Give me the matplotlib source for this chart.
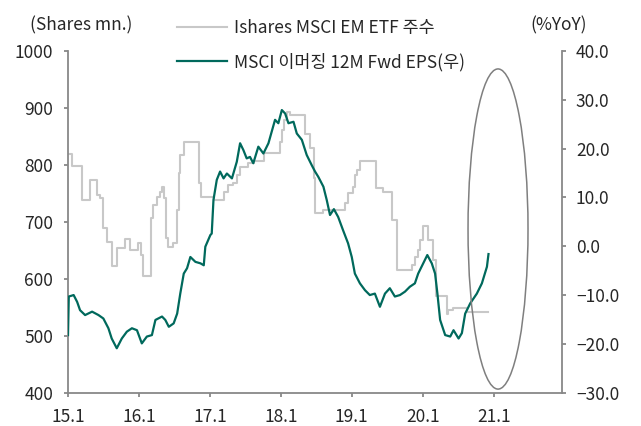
# -*- coding: utf-8 -*-
"""Ishares MSCI EM ETF 주수 vs MSCI 이머징 12M Fwd EPS YoY."""

import matplotlib

matplotlib.use("Agg")
import matplotlib.pyplot as plt
import pandas as pd
from matplotlib.patches import Ellipse


# 좌축: Ishares MSCI EM ETF 주수 (Shares mn.), 계단형
ETF_DATES = [
    "2015-01-02", "2015-01-20", "2015-03-15", "2015-04-23", "2015-05-30",
    "2015-06-13", "2015-07-01", "2015-07-23", "2015-08-18", "2015-09-09",
    "2015-10-23", "2015-11-14", "2015-12-28", "2016-01-12", "2016-01-23",
    "2016-03-03", "2016-03-14", "2016-04-01", "2016-04-20", "2016-05-01",
    "2016-05-08", "2016-05-19", "2016-05-30", "2016-06-25", "2016-07-16",
    "2016-07-24", "2016-07-31", "2016-08-18", "2016-11-03", "2016-11-18",
    "2017-01-20", "2017-03-12", "2017-04-06", "2017-05-01", "2017-05-19",
    "2017-06-07", "2017-07-17", "2017-08-15", "2017-10-08", "2017-12-28",
    "2018-01-08", "2018-01-19", "2018-02-03", "2018-02-17", "2018-05-05",
    "2018-05-30", "2018-06-21", "2018-06-25", "2018-08-08", "2018-11-29",
    "2018-12-14", "2019-01-05", "2019-01-20", "2019-01-30", "2019-02-14",
    "2019-05-08", "2019-06-10", "2019-07-27", "2019-08-22", "2019-11-07",
    "2019-11-22", "2019-12-10", "2019-12-17", "2020-01-01", "2020-01-30",
    "2020-02-24", "2020-03-10", "2020-05-04", "2020-05-12", "2020-06-06",
    "2020-08-15", "2020-10-05", "2020-12-02",
]
ETF_SHARES = [
    820, 798, 738, 773, 747,
    742, 689, 665, 622, 654,
    670, 651, 663, 642, 605,
    707, 730, 744, 753, 762,
    742, 671, 656, 663, 721,
    786, 817, 841, 768, 744,
    738, 753, 765, 768, 782,
    797, 803, 806, 821, 840,
    861, 879, 892, 888, 855,
    830, 777, 716, 721, 733,
    751, 762, 782, 791, 807,
    759, 753, 703, 615, 624,
    639, 651, 668, 692, 668,
    633, 569, 539, 545, 548,
    541, 542, 542,
]

# 우축: MSCI 이머징 12M Fwd EPS (%YoY)
EPS_DATES = [
    "2015-01-01", "2015-01-05", "2015-01-30", "2015-02-17", "2015-03-04",
    "2015-03-30", "2015-05-05", "2015-06-07", "2015-07-02", "2015-07-28",
    "2015-08-14", "2015-09-09", "2015-10-05", "2015-10-31", "2015-11-26",
    "2015-12-22", "2016-01-16", "2016-02-11", "2016-03-08", "2016-03-26",
    "2016-04-29", "2016-05-16", "2016-06-03", "2016-06-28", "2016-07-16",
    "2016-08-01", "2016-08-19", "2016-09-05", "2016-09-22", "2016-10-18",
    "2016-11-13", "2016-11-30", "2016-12-08", "2017-01-03", "2017-01-10",
    "2017-01-19", "2017-02-05", "2017-02-22", "2017-03-12", "2017-03-29",
    "2017-04-24", "2017-05-19", "2017-06-05", "2017-06-22", "2017-07-09",
    "2017-07-26", "2017-08-12", "2017-09-07", "2017-10-03", "2017-10-29",
    "2017-11-15", "2017-12-02", "2017-12-19", "2018-01-06", "2018-01-23",
    "2018-02-09", "2018-03-07", "2018-03-24", "2018-04-19", "2018-05-14",
    "2018-06-09", "2018-06-26", "2018-07-13", "2018-08-08", "2018-08-25",
    "2018-09-11", "2018-10-01", "2018-10-23", "2018-11-17", "2018-12-13",
    "2019-01-01", "2019-01-17", "2019-02-12", "2019-03-10", "2019-04-04",
    "2019-04-30", "2019-05-26", "2019-06-21", "2019-07-16", "2019-08-11",
    "2019-09-06", "2019-10-02", "2019-10-27", "2019-11-22", "2019-12-09",
    "2020-01-04", "2020-01-25", "2020-02-17", "2020-03-05", "2020-03-17",
    "2020-03-31", "2020-04-26", "2020-05-22", "2020-06-08", "2020-07-04",
    "2020-07-21", "2020-08-07", "2020-09-02", "2020-10-06", "2020-11-01",
    "2020-11-27", "2020-12-05",
]
EPS_YOY = [
    -18.2, -10.3, -10.0, -11.4, -13.1,
    -14.1, -13.4, -14.1, -14.8, -16.8,
    -18.9, -20.9, -18.9, -17.5, -16.8,
    -17.2, -19.9, -18.5, -18.2, -15.1,
    -14.4, -15.1, -16.5, -15.8, -13.8,
    -9.7, -5.6, -4.5, -2.2, -3.2,
    -3.5, -3.9, -0.1, 2.3, 2.6,
    9.5, 13.6, 15.3, 13.9, 14.9,
    13.9, 17.3, 21.1, 19.7, 18.0,
    18.3, 17.0, 20.4, 19.0, 21.1,
    23.5, 25.9, 25.2, 27.9, 27.2,
    25.2, 25.5, 23.1, 21.8, 18.7,
    16.6, 15.3, 14.2, 12.2, 9.5,
    6.4, 7.6, 6.0, 3.3, 0.6,
    -2.2, -5.6, -7.6, -9.0, -10.0,
    -9.7, -12.4, -9.7, -8.6, -10.3,
    -10.0, -9.3, -8.3, -7.6, -5.6,
    -3.5, -1.8, -3.5, -5.6, -9.7,
    -15.1, -18.2, -18.5, -17.2, -18.9,
    -17.8, -13.8, -11.7, -9.7, -7.6,
    -4.2, -1.6,
]

X_TICKS = ["2015-01-01", "2016-01-01", "2017-01-01", "2018-01-01",
           "2019-01-01", "2020-01-01", "2021-01-01"]
X_TICK_LABELS = ["15.1", "16.1", "17.1", "18.1", "19.1", "20.1", "21.1"]
LEFT_TICKS = [400, 500, 600, 700, 800, 900, 1000]
RIGHT_TICKS = [-30, -20, -10, 0, 10, 20, 30, 40]

GREY = "#c8c8c8"
TEAL = "#00695c"
AXIS = "#888888"
TEXT = "#262626"

plt.rcParams["font.family"] = ["Noto Sans CJK KR", "DejaVu Sans"]
plt.rcParams["font.size"] = 12.5


def style_axis(ax):
    for side in ("top", "left", "right", "bottom"):
        ax.spines[side].set_visible(False)
    ax.tick_params(axis="both", direction="out", length=3.2, width=1.3,
                   color=AXIS, labelcolor=TEXT, labelsize=12.5)


def main() -> None:
    fig = plt.figure(figsize=(6.41, 4.26), dpi=100)
    ax = fig.add_axes([0.1061, 0.0782, 0.7702, 0.8021])
    ax2 = ax.twinx()

    etf_dates = pd.to_datetime(ETF_DATES)
    eps_dates = pd.to_datetime(EPS_DATES)

    line1, = ax.plot(etf_dates, ETF_SHARES, color=GREY, lw=1.5,
                     drawstyle="steps-post",
                     label="Ishares MSCI EM ETF 주수")
    line2, = ax2.plot(eps_dates, EPS_YOY, color=TEAL, lw=1.6,
                      label="MSCI 이머징 12M Fwd EPS(우)")

    style_axis(ax)
    style_axis(ax2)
    for spine in (ax.spines["left"], ax.spines["bottom"], ax2.spines["right"]):
        spine.set_visible(True)
        spine.set_color(AXIS)
        spine.set_linewidth(1.3)

    ax.set_xlim(pd.Timestamp("2015-01-01"), pd.Timestamp("2021-12-17"))
    ax.set_ylim(400, 1000)
    ax2.set_ylim(-30, 40)
    ax.set_xticks(pd.to_datetime(X_TICKS))
    ax.set_xticklabels(X_TICK_LABELS)
    ax.set_yticks(LEFT_TICKS)
    ax.set_yticklabels([str(v) for v in LEFT_TICKS])
    ax2.set_yticks(RIGHT_TICKS)
    ax2.set_yticklabels([f"{v:.1f}".replace("-", "\u2212") for v in RIGHT_TICKS])
    ax.tick_params(axis="y", pad=7.5)
    ax.tick_params(axis="x", pad=7.5)
    ax2.tick_params(axis="y", pad=7.0)
    ax2.tick_params(axis="x", bottom=False, labelbottom=False)

    fig.text(0.127, 0.941, "(Shares mn.)", ha="center", va="center",
             color=TEXT, fontsize=12.5)
    fig.text(0.872, 0.941, "(%YoY)", ha="center", va="center",
             color=TEXT, fontsize=12.5)

    fig.legend(handles=[line1, line2], loc="upper left",
               bbox_to_anchor=(177 / 641, 1 - 19 / 426), frameon=False,
               borderpad=0, borderaxespad=0, handlelength=2.9,
               handletextpad=0.4, labelspacing=0.92, fontsize=12.5,
               labelcolor=TEXT)

    # 강조용 타원
    ax2.add_patch(Ellipse((0.871, 0.479), 0.1215, 0.937,
                          transform=ax2.transAxes, fill=False,
                          edgecolor="#7f7f7f", lw=1.1, clip_on=False,
                          zorder=5))

    fig.savefig("out.png", dpi=100)
    plt.close(fig)


if __name__ == "__main__":
    main()
